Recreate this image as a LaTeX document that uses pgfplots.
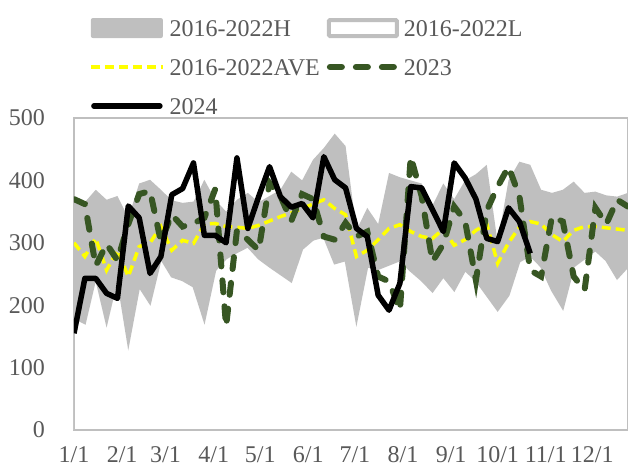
\documentclass[border=0pt]{standalone}
\usepackage{fontspec}
\setmainfont{Liberation Serif}
\usepackage{pgfplots}
\pgfplotsset{compat=1.18}
\usepackage{pgfplotstable}
\definecolor{band}{HTML}{BFBFBF}
\definecolor{txt}{HTML}{595959}
\definecolor{olive}{HTML}{375623}
\definecolor{ylw}{HTML}{FFFF00}

% weekly values, x = day of year
\pgfplotstableread{
x   h   l   ave y23 y24
0   370 180 300 370 155
7   365 171 278 362 243
14  385 245 307 263 243
21  369 171 256 298 219
28  375 245 288 272 211
35  340 137 246 330 359
42  395 230 294 378 340
49  401 203 300 383 251
56  385 275 326 302 278
63  368 246 288 345 377
70  364 240 304 326 387
77  366 230 299 331 428
84  401 175 330 340 312
91  369 256 331 386 312
98  350 275 326 166 300
105 369 285 325 320 436
112 380 294 323 305 323
119 365 275 328 288 374
126 375 262 335 396 422
133 385 250 342 375 374
140 414 238 348 335 357
147 400 290 355 378 363
154 433 305 362 370 340
161 452 310 369 310 438
168 475 267 355 305 401
175 455 272 345 332 388
182 320 174 278 310 323
189 356 262 288 318 310
196 330 258 305 246 216
203 412 265 323 238 192
210 405 272 329 192 235
217 400 255 318 438 390
224 395 240 310 375 388
231 360 222 307 270 353
238 395 246 322 298 318
245 370 224 296 358 428
252 400 256 305 335 404
259 410 240 320 240 370
266 425 216 330 352 307
273 300 192 267 390 302
280 400 216 300 422 356
287 430 270 325 375 334
294 425 280 334 256 283
301 385 262 330 246 nan
308 380 224 313 342 nan
315 385 195 302 334 nan
322 398 262 320 246 nan
329 380 275 326 224 nan
336 382 288 326 356 nan
343 376 272 324 330 nan
350 374 243 322 369 nan
357 380 262 320 358 nan
}\wk

\pgfplotsset{
  hleg/.style={legend image code/.code={\fill[band, rounded corners=2pt] (0pt,-9pt) rectangle (72pt,11pt);}},
  lleg/.style={legend image code/.code={\draw[band, line width=4pt, fill=white, rounded corners=1pt] (2pt,-7pt) rectangle (70pt,9pt);}},
  aleg/.style={legend image code/.code={\draw[ylw, line width=3.5pt, dash pattern=on 9pt off 5pt] (0pt,1pt) -- (72pt,1pt);}},
  gleg/.style={legend image code/.code={\draw[olive, line width=6pt, line cap=round, dash pattern=on 12pt off 14pt] (3pt,1pt) -- (69pt,1pt);}},
  bleg/.style={legend image code/.code={\draw[black, line width=5.5pt, line cap=round] (3pt,1pt) -- (69pt,1pt);}},
}

\begin{document}
\begin{tikzpicture}[font=\fontsize{24}{28}\selectfont, text=txt]
\useasboundingbox (-74pt,-38pt) rectangle (554pt,430pt);
\begin{axis}[
  at={(0,0)}, anchor=south west,
  width=554pt, height=312pt, scale only axis,
  xmin=0, xmax=357, ymin=0, ymax=500,
  xtick={0,31,59,90,120,151,181,212,243,273,304,334},
  xticklabels={1/1,2/1,3/1,4/1,5/1,6/1,7/1,8/1,9/1,10/1,11/1,12/1},
  ytick={0,100,...,500},
  major tick length=0pt,
  axis line style={draw=band, line width=2pt},
  /pgf/number format/assume math mode=true,
  tick label style={text=txt},
  yticklabel style={anchor=east, inner sep=0pt, xshift=-29pt},
  xticklabel style={anchor=base, inner sep=0pt, yshift=-32pt},
  unbounded coords=jump,
  legend columns=2,
  legend cell align=left,
  legend style={at={(0.027,1.321)}, anchor=north west, draw=none, fill=none,
    inner sep=0pt, row sep=19pt, text=txt,
    nodes={inner sep=0pt, text height=17pt, text depth=3pt}},
  /tikz/every odd column/.append style={column sep=5pt},
  /tikz/every even column/.append style={column sep=7pt},
]
\addplot[fill=band, draw=none, hleg] table[x=x, y=h] {\wk} \closedcycle;
\addlegendentry{2016-2022H}
\addplot[fill=white, draw=band, line width=2pt, lleg] table[x=x, y=l] {\wk} \closedcycle;
\addlegendentry{2016-2022L}
\addplot[ylw, line width=3.5pt, dash pattern=on 9pt off 5pt, aleg] table[x=x, y=ave] {\wk};
\addlegendentry{2016-2022AVE}
\addplot[olive, line width=6pt, line cap=round, dash pattern=on 12pt off 14pt, gleg] table[x=x, y=y23] {\wk};
\addlegendentry{2023}
\addplot[black, line width=5.5pt, line join=round, bleg] table[x=x, y=y24] {\wk};
\addlegendentry{2024}
\end{axis}
\end{tikzpicture}
\end{document}
